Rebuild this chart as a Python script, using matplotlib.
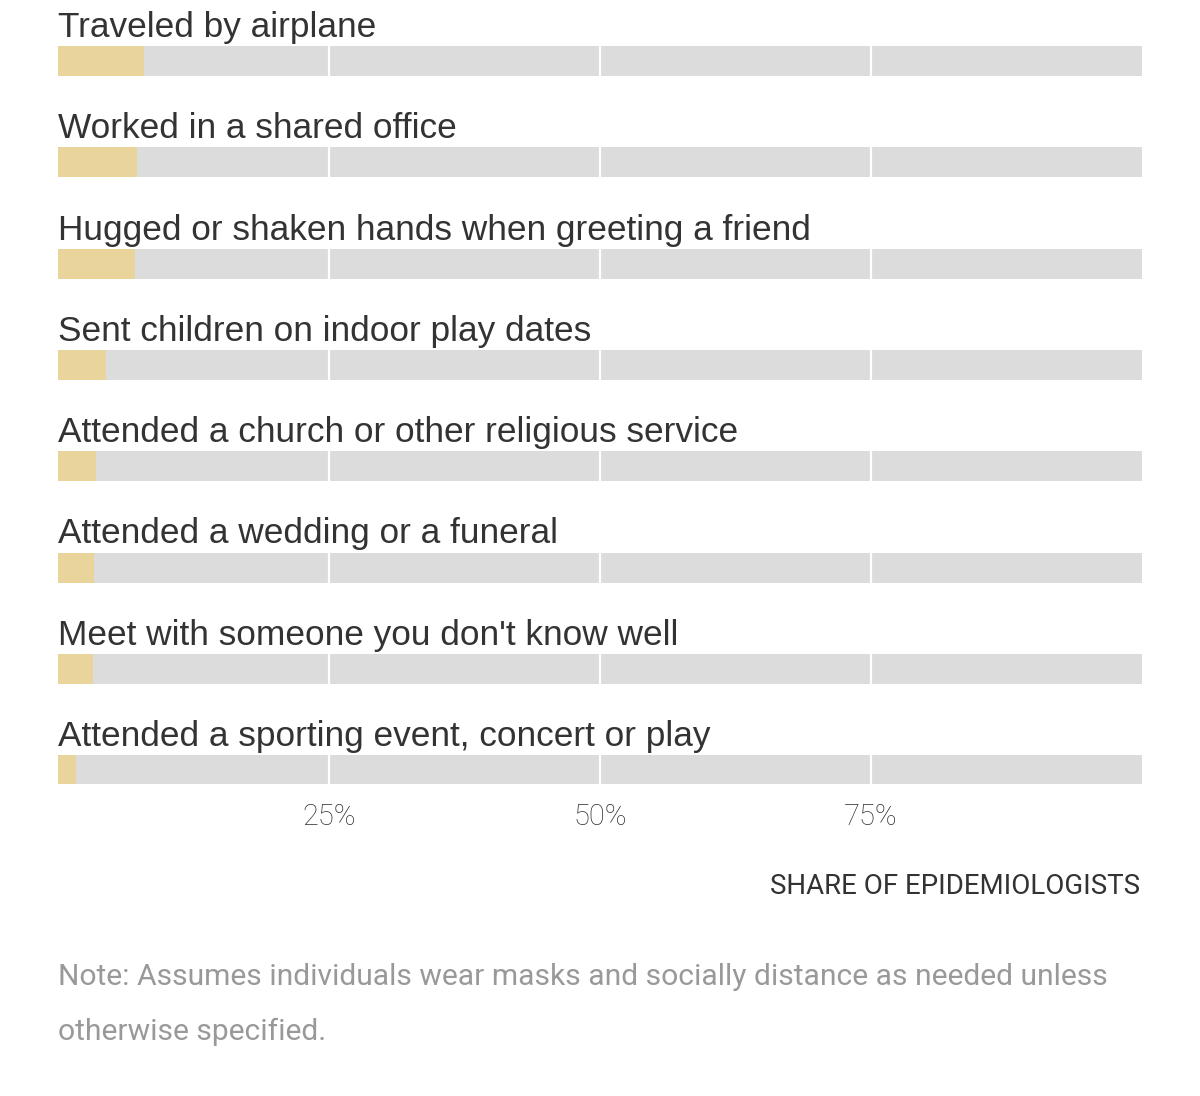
import matplotlib
matplotlib.use('Agg')
from matplotlib import pyplot as plt

# dados (percentual de epidemiologistas)
atividades = [
    'Traveled by airplane',
    'Worked in a shared office',
    'Hugged or shaken hands when greeting a friend',
    'Sent children on indoor play dates',
    'Attended a church or other religious service',
    'Attended a wedding or a funeral',
    "Meet with someone you don't know well",
    'Attended a sporting event, concert or play',
]
percentuais = [7.9, 7.3, 7.1, 4.4, 3.5, 3.3, 3.2, 1.7]
ticks = [25, 50, 75]
tick_labels = ['25%', '50%', '75%']

W, H = 1200, 1096
fig = plt.figure(figsize=(W / 100, H / 100), dpi=100)

# eixo ocupa do topo ate o fim da ultima barra (px 784)
ax = fig.add_axes([58 / W, 1 - 784 / H, (1142 - 58) / W, 784 / H])

passo = 101.3
altura = 30 / passo
y = list(range(len(atividades)))

ax.barh(y, [100] * len(y), height=altura, color='#dcdcdc', zorder=1)
ax.barh(y, percentuais, height=altura, color='#e9d49b', zorder=2)

for t in ticks:
    ax.axvline(t, color='white', linewidth=1.6, zorder=3)

for i, nome in enumerate(atividades):
    ax.text(0, i - 0.237, nome, fontsize=25.4, color='#333333',
            family='Liberation Sans', va='baseline', ha='left')

ax.set_xlim(0, 100)
ax.set_ylim((784 - 61) / passo, -61 / passo)
ax.set_xticks(ticks)
ax.set_xticklabels(tick_labels, fontsize=21, color='#333333', family='Roboto',
                   fontweight='light')
ax.tick_params(axis='x', length=0, pad=14)
ax.set_yticks([])
for s in ax.spines.values():
    s.set_visible(False)

fig.text(1140 / W, 1 - 886 / H, 'SHARE OF EPIDEMIOLOGISTS', fontsize=19.9,
         color='#333333', family='Roboto', ha='right', va='center')

fig.text(58 / W, 1 - 977 / H,
         'Note: Assumes individuals wear masks and socially distance as needed unless',
         fontsize=21.6, color='#999999', family='Roboto',
         ha='left', va='center')
fig.text(58 / W, 1 - 1032 / H, 'otherwise specified.',
         fontsize=21.6, color='#999999', family='Roboto',
         ha='left', va='center')

plt.savefig('out.png', dpi=100)
